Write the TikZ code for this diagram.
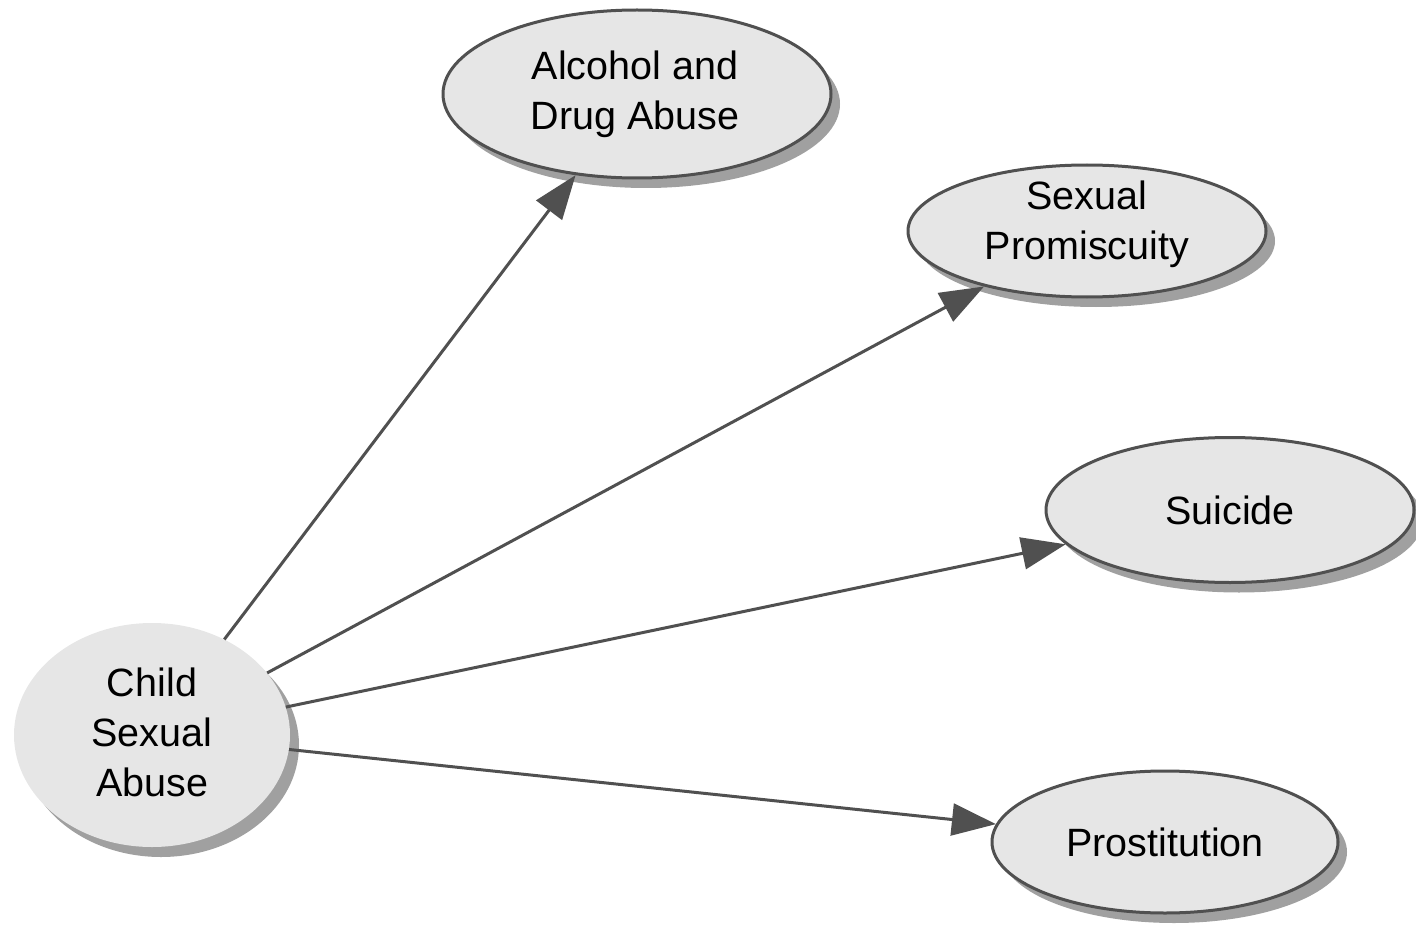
\documentclass[tikz,border=0pt]{standalone}
\usepackage{fontspec}
\setmainfont{Liberation Sans}
\usetikzlibrary{shapes.geometric,arrows.meta,shadows}
\definecolor{edgegray}{HTML}{505050}
\definecolor{nodefill}{HTML}{E6E6E6}
\definecolor{shadowgray}{HTML}{969696}
\begin{document}
\begin{tikzpicture}[x=1pt,y=-1pt,
  bubble/.style={ellipse, fill=nodefill, inner sep=0pt, align=center,
    font=\fontsize{39.5}{50}\selectfont,
    drop shadow={shadow xshift=9pt, shadow yshift=-10pt, fill=shadowgray, opacity=0.9}},
  bordered/.style={bubble, draw=edgegray, line width=3pt},
  txt/.style={align=center, font=\fontsize{39.5}{50}\selectfont, inner sep=0pt},
  link/.style={draw=edgegray, line width=3pt,
    -{Triangle[length=44pt,width=32pt]}, fill=edgegray}]
\useasboundingbox (0,0) rectangle (1416,928);
\node[bubble, minimum width=276pt, minimum height=224pt,
  label={[txt, yshift=3pt]center:Child\\Sexual\\Abuse}] (csa) at (152,735) {};
\node[bordered, minimum width=388pt, minimum height=168pt,
  label={[txt, xshift=-2pt]center:Alcohol and\\Drug Abuse}] (alc) at (637,94) {};
\node[bordered, minimum width=358pt, minimum height=132pt,
  label={[txt, yshift=6.5pt]center:Sexual\\Promiscuity}] (sp) at (1087,231) {};
\node[bordered, minimum width=368pt, minimum height=145pt,
  label={[txt]center:Suicide}] (sui) at (1230,510) {};
\node[bordered, minimum width=346pt, minimum height=142pt,
  label={[txt]center:Prostitution}] (pro) at (1165,842) {};
\draw[link] (csa) -- (alc);
\draw[link] (csa) -- (sp);
\draw[link] (csa) -- (sui);
\draw[link] (csa) -- (pro);
\end{tikzpicture}
\end{document}
